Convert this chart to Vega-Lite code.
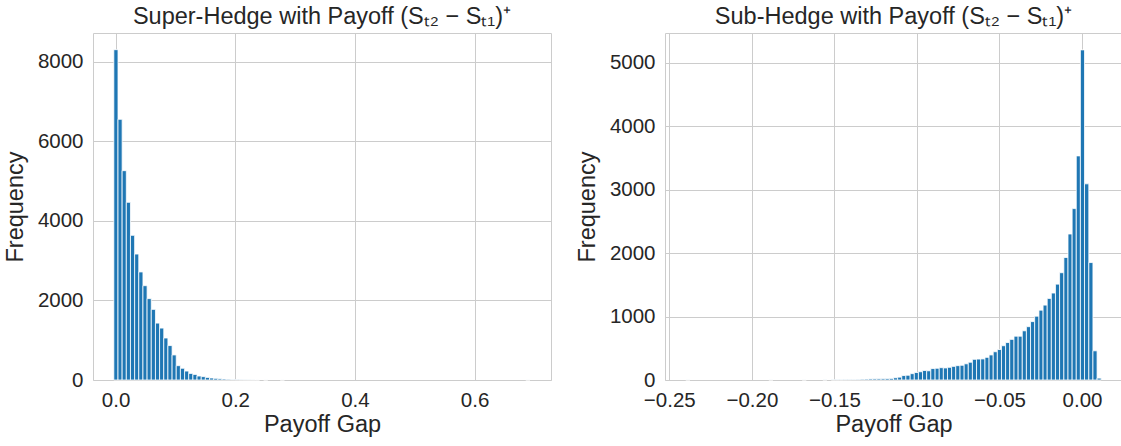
{
  "$schema": "https://vega.github.io/schema/vega-lite/v6.json",
  "background": "white",
  "padding": {"left": 2, "top": 4, "right": 0, "bottom": 0},
  "config": {
    "font": "Liberation Sans",
    "view": {"stroke": "#cccccc", "strokeWidth": 1},
    "axis": {"grid": true, "gridColor": "#cccccc", "gridWidth": 1, "domain": false, "ticks": false, "labelFontSize": 20.5, "labelColor": "#262626", "titleFontSize": 23.5, "titleColor": "#262626", "titleFontWeight": "normal", "labelFont": "Liberation Sans", "titleFont": "Liberation Sans"},
    "axisX": {"labelPadding": 10, "titlePadding": 2},
    "axisY": {"labelPadding": 10, "titlePadding": 10},
    "title": {"fontSize": 23.5, "fontWeight": "normal", "color": "#262626", "font": "Liberation Sans", "offset": 5},
    "concat": {"spacing": 22}
  },
  "datasets": {
    "super": [
      {"lo": -0.0030, "hi": 0.0040, "n": 8300},
      {"lo": 0.0040, "hi": 0.0109, "n": 6550},
      {"lo": 0.0109, "hi": 0.0179, "n": 5260},
      {"lo": 0.0179, "hi": 0.0248, "n": 4465},
      {"lo": 0.0248, "hi": 0.0318, "n": 3635},
      {"lo": 0.0318, "hi": 0.0387, "n": 3165},
      {"lo": 0.0387, "hi": 0.0457, "n": 2715},
      {"lo": 0.0457, "hi": 0.0526, "n": 2370},
      {"lo": 0.0526, "hi": 0.0596, "n": 2045},
      {"lo": 0.0596, "hi": 0.0666, "n": 1775},
      {"lo": 0.0666, "hi": 0.0735, "n": 1430},
      {"lo": 0.0735, "hi": 0.0805, "n": 1305},
      {"lo": 0.0805, "hi": 0.0874, "n": 1055},
      {"lo": 0.0874, "hi": 0.0944, "n": 865},
      {"lo": 0.0944, "hi": 0.1013, "n": 630},
      {"lo": 0.1013, "hi": 0.1083, "n": 360},
      {"lo": 0.1083, "hi": 0.1153, "n": 295},
      {"lo": 0.1153, "hi": 0.1222, "n": 225},
      {"lo": 0.1222, "hi": 0.1292, "n": 165},
      {"lo": 0.1292, "hi": 0.1361, "n": 140},
      {"lo": 0.1361, "hi": 0.1431, "n": 100},
      {"lo": 0.1431, "hi": 0.1500, "n": 85},
      {"lo": 0.1500, "hi": 0.1570, "n": 65},
      {"lo": 0.1570, "hi": 0.1639, "n": 50},
      {"lo": 0.1639, "hi": 0.1709, "n": 42},
      {"lo": 0.1709, "hi": 0.1779, "n": 32},
      {"lo": 0.1779, "hi": 0.1848, "n": 25},
      {"lo": 0.1848, "hi": 0.1918, "n": 18},
      {"lo": 0.1918, "hi": 0.1987, "n": 12},
      {"lo": 0.1987, "hi": 0.2057, "n": 9},
      {"lo": 0.2057, "hi": 0.2126, "n": 6},
      {"lo": 0.2126, "hi": 0.2196, "n": 4},
      {"lo": 0.2196, "hi": 0.2265, "n": 3},
      {"lo": 0.2265, "hi": 0.2335, "n": 2},
      {"lo": 0.2335, "hi": 0.2405, "n": 1},
      {"lo": 0.2474, "hi": 0.2544, "n": 1},
      {"lo": 0.2752, "hi": 0.2822, "n": 1},
      {"lo": 0.6856, "hi": 0.6926, "n": 1}
    ],
    "sub": [
      {"lo": -0.2400, "hi": -0.2375, "n": 1},
      {"lo": -0.1897, "hi": -0.1872, "n": 1},
      {"lo": -0.1695, "hi": -0.1670, "n": 1},
      {"lo": -0.1570, "hi": -0.1545, "n": 2},
      {"lo": -0.1519, "hi": -0.1494, "n": 3},
      {"lo": -0.1494, "hi": -0.1469, "n": 4},
      {"lo": -0.1469, "hi": -0.1444, "n": 3},
      {"lo": -0.1444, "hi": -0.1419, "n": 5},
      {"lo": -0.1419, "hi": -0.1394, "n": 6},
      {"lo": -0.1394, "hi": -0.1368, "n": 8},
      {"lo": -0.1368, "hi": -0.1343, "n": 9},
      {"lo": -0.1343, "hi": -0.1318, "n": 12},
      {"lo": -0.1318, "hi": -0.1293, "n": 14},
      {"lo": -0.1293, "hi": -0.1268, "n": 17},
      {"lo": -0.1268, "hi": -0.1243, "n": 18},
      {"lo": -0.1243, "hi": -0.1217, "n": 19},
      {"lo": -0.1217, "hi": -0.1192, "n": 20},
      {"lo": -0.1192, "hi": -0.1167, "n": 22},
      {"lo": -0.1167, "hi": -0.1142, "n": 25},
      {"lo": -0.1142, "hi": -0.1117, "n": 35},
      {"lo": -0.1117, "hi": -0.1092, "n": 45},
      {"lo": -0.1092, "hi": -0.1067, "n": 70},
      {"lo": -0.1067, "hi": -0.1041, "n": 75},
      {"lo": -0.1041, "hi": -0.1016, "n": 100},
      {"lo": -0.1016, "hi": -0.0991, "n": 118},
      {"lo": -0.0991, "hi": -0.0966, "n": 130},
      {"lo": -0.0966, "hi": -0.0941, "n": 150},
      {"lo": -0.0941, "hi": -0.0916, "n": 145},
      {"lo": -0.0916, "hi": -0.0890, "n": 180},
      {"lo": -0.0890, "hi": -0.0865, "n": 185},
      {"lo": -0.0865, "hi": -0.0840, "n": 194},
      {"lo": -0.0840, "hi": -0.0815, "n": 190},
      {"lo": -0.0815, "hi": -0.0790, "n": 200},
      {"lo": -0.0790, "hi": -0.0765, "n": 215},
      {"lo": -0.0765, "hi": -0.0739, "n": 226},
      {"lo": -0.0739, "hi": -0.0714, "n": 232},
      {"lo": -0.0714, "hi": -0.0689, "n": 255},
      {"lo": -0.0689, "hi": -0.0664, "n": 280},
      {"lo": -0.0664, "hi": -0.0639, "n": 326},
      {"lo": -0.0639, "hi": -0.0614, "n": 330},
      {"lo": -0.0614, "hi": -0.0588, "n": 332},
      {"lo": -0.0588, "hi": -0.0563, "n": 357},
      {"lo": -0.0563, "hi": -0.0538, "n": 395},
      {"lo": -0.0538, "hi": -0.0513, "n": 445},
      {"lo": -0.0513, "hi": -0.0488, "n": 480},
      {"lo": -0.0488, "hi": -0.0463, "n": 540},
      {"lo": -0.0463, "hi": -0.0438, "n": 590},
      {"lo": -0.0438, "hi": -0.0412, "n": 640},
      {"lo": -0.0412, "hi": -0.0387, "n": 690},
      {"lo": -0.0387, "hi": -0.0362, "n": 690},
      {"lo": -0.0362, "hi": -0.0337, "n": 775},
      {"lo": -0.0337, "hi": -0.0312, "n": 840},
      {"lo": -0.0312, "hi": -0.0287, "n": 920},
      {"lo": -0.0287, "hi": -0.0261, "n": 1005},
      {"lo": -0.0261, "hi": -0.0236, "n": 1100},
      {"lo": -0.0236, "hi": -0.0211, "n": 1180},
      {"lo": -0.0211, "hi": -0.0186, "n": 1285},
      {"lo": -0.0186, "hi": -0.0161, "n": 1370},
      {"lo": -0.0161, "hi": -0.0136, "n": 1510},
      {"lo": -0.0136, "hi": -0.0110, "n": 1690},
      {"lo": -0.0110, "hi": -0.0085, "n": 1930},
      {"lo": -0.0085, "hi": -0.0060, "n": 2300},
      {"lo": -0.0060, "hi": -0.0035, "n": 2700},
      {"lo": -0.0035, "hi": -0.0010, "n": 3530},
      {"lo": -0.0010, "hi": 0.0015, "n": 5200},
      {"lo": 0.0015, "hi": 0.0041, "n": 3090},
      {"lo": 0.0041, "hi": 0.0066, "n": 1850},
      {"lo": 0.0066, "hi": 0.0091, "n": 460},
      {"lo": 0.0091, "hi": 0.0116, "n": 30}
    ]
  },
  "hconcat": [
    {
      "width": 458,
      "height": 347,
      "title": {"text": "Super-Hedge with Payoff (Sₜ₂ − Sₜ₁)⁺"},
      "data": {"name": "super"},
      "mark": {"type": "bar", "color": "#1f77b4", "stroke": "white", "strokeWidth": 0.8},
      "encoding": {
        "x": {"field": "lo", "type": "quantitative", "scale": {"domain": [-0.0378, 0.7277], "nice": false, "zero": false}, "axis": {"values": [0, 0.2, 0.4, 0.6], "format": ".1f", "title": "Payoff Gap"}},
        "x2": {"field": "hi"},
        "y": {"field": "n", "type": "quantitative", "scale": {"domain": [0, 8719], "nice": false}, "axis": {"values": [0, 2000, 4000, 6000, 8000], "format": "d", "title": "Frequency"}},
        "y2": {"datum": 0}
      }
    },
    {
      "width": 457,
      "height": 347,
      "title": {"text": "Sub-Hedge with Payoff (Sₜ₂ − Sₜ₁)⁺"},
      "data": {"name": "sub"},
      "mark": {"type": "bar", "color": "#1f77b4", "stroke": "white", "strokeWidth": 0.8},
      "encoding": {
        "x": {"field": "lo", "type": "quantitative", "scale": {"domain": [-0.2526, 0.0242], "nice": false, "zero": false}, "axis": {"values": [-0.25, -0.2, -0.15, -0.1, -0.05, 0], "format": ".2f", "title": "Payoff Gap"}},
        "x2": {"field": "hi"},
        "y": {"field": "n", "type": "quantitative", "scale": {"domain": [0, 5466], "nice": false}, "axis": {"values": [0, 1000, 2000, 3000, 4000, 5000], "format": "d", "title": "Frequency"}},
        "y2": {"datum": 0}
      }
    }
  ]
}
